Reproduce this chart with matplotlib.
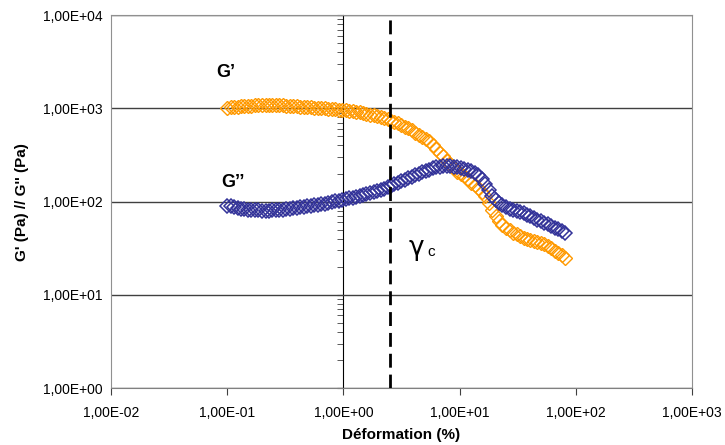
import matplotlib
matplotlib.use("Agg")
import matplotlib.pyplot as plt
from matplotlib.ticker import FuncFormatter, LogLocator, NullFormatter

plt.rcParams['font.family'] = ['Liberation Sans', 'DejaVu Sans']

# --- data ---
strain = [0.100, 0.107, 0.115, 0.123, 0.132, 0.141, 0.151, 0.162, 0.174, 0.186,
          0.200, 0.214, 0.229, 0.245, 0.263, 0.282, 0.302, 0.324, 0.347, 0.372,
          0.398, 0.427, 0.457, 0.490, 0.525, 0.562, 0.603, 0.646, 0.692, 0.741,
          0.794, 0.851, 0.912, 0.977, 1.05, 1.12, 1.20, 1.29, 1.38, 1.48,
          1.58, 1.70, 1.82, 1.95, 2.09, 2.24, 2.40, 2.57, 2.75, 2.95,
          3.16, 3.39, 3.63, 3.89, 4.17, 4.47, 4.79, 5.13, 5.50, 5.89,
          6.31, 6.76, 7.24, 7.76, 8.32, 8.91, 9.55, 10.2, 11.0, 11.7,
          12.6, 13.5, 14.5, 15.5, 16.6, 17.8, 19.1, 20.4, 21.9, 23.4,
          25.1, 26.9, 28.8, 30.9, 33.1, 35.5, 38.0, 40.7, 43.7, 46.8,
          50.1, 53.7, 57.5, 61.7, 66.1, 70.8, 75.9, 81.3]

g_prime = [1020, 1030, 1040, 1045, 1050, 1055, 1060, 1068, 1075, 1075,
           1075, 1075, 1075, 1078, 1080, 1080, 1080, 1070, 1060, 1055,
           1050, 1045, 1040, 1032, 1025, 1018, 1010, 1005, 1000, 995,
           990, 978, 965, 958, 950, 940, 930, 918, 905, 888,
           870, 855, 840, 820, 800, 780, 760, 738, 715, 690,
           665, 638, 610, 580, 550, 520, 490, 468, 445, 405,
           370, 335, 305, 275, 250, 228, 210, 198, 187, 173,
           160, 150, 140, 127, 114, 96, 81, 70, 62, 56,
           52, 49, 46, 44.5, 43, 41, 39.5, 38.5, 37.5, 36.7,
           36, 34.8, 33.5, 31.5, 29.5, 28, 26.8, 25]

g_second = [90.6, 89, 87.3, 85.7, 84.1, 83.1, 82.1, 81.6, 81.1, 80.6,
            80.1, 80.1, 80.1, 80.6, 81.1, 81.6, 82.1, 83.1, 84.1, 85.1,
            86.2, 87.3, 88.4, 89.5, 90.6, 91.7, 92.9, 94, 95.2, 97,
            98.8, 100.5, 102, 104, 106, 108, 110, 112.5, 115, 117.5,
            120, 123, 126, 129.5, 133, 138, 143, 148.5, 154, 160,
            166, 172.5, 179, 185.5, 192, 199.5, 207, 213.5, 220, 227,
            234, 237, 240, 240, 240, 237, 234, 230, 226, 219,
            212, 202, 192, 173, 154, 133, 115, 104, 96.4, 91.5,
            87.3, 84, 81.1, 79, 77.2, 74.8, 72.5, 69.5, 66.5, 64,
            61.8, 59.5, 57.4, 55, 52.6, 50.4, 48.3, 46]

gamma_c = 2.5

fig = plt.figure(figsize=(7.25, 4.45), dpi=100)
ax = fig.add_axes([0.153, 0.128, 0.8015, 0.838])

ax.plot(strain, g_prime, linestyle='none', marker='D', markersize=7,
        markerfacecolor='none', markeredgecolor='#FF9900', markeredgewidth=1.0)
ax.plot(strain, g_second, linestyle='none', marker='D', markersize=7,
        markerfacecolor='none', markeredgecolor='#333399', markeredgewidth=1.1)

ax.axvline(gamma_c, color='black', linewidth=2, linestyle=(0, (5, 2.5)), zorder=5)

ax.set_xscale('log')
ax.set_yscale('log')
ax.set_xlim(1e-2, 1e3)
ax.set_ylim(1e0, 1e4)

sci = FuncFormatter(lambda v, pos: f"{v:.2E}".replace('.', ','))
ax.xaxis.set_major_locator(LogLocator(base=10, numticks=10))
ax.yaxis.set_major_locator(LogLocator(base=10, numticks=10))
ax.xaxis.set_minor_locator(plt.NullLocator())
ax.yaxis.set_minor_locator(plt.NullLocator())
ax.xaxis.set_major_formatter(sci)
ax.yaxis.set_major_formatter(sci)

ax.yaxis.grid(True, color='#404040', linewidth=1)
ax.set_axisbelow(True)

for side in ['left', 'top', 'right']:
    ax.spines[side].set_color('#909090')
ax.spines['bottom'].set_color('#808080')
ax.tick_params(axis='y', length=0, pad=6, labelsize=10)
ax.tick_params(axis='x', direction='out', length=5, color='#404040', pad=8, labelsize=10)

# value axis crossing at x = 1
sec = ax.secondary_yaxis(0.4)
sec.spines['left'].set_color('black')
sec.yaxis.set_minor_locator(LogLocator(base=10, subs=range(2, 10), numticks=20))
sec.yaxis.set_minor_formatter(NullFormatter())
sec.yaxis.set_major_formatter(NullFormatter())
sec.tick_params(which='both', direction='out', length=4, color='#404040')

ax.set_xlabel('Déformation (%)', fontsize=11, fontweight='bold', labelpad=6)
ax.set_ylabel('G\' (Pa) // G\'\' (Pa)', fontsize=11, fontweight='bold', labelpad=10)

ax.text(0.198, 0.847, 'G\u2019', transform=ax.transAxes, fontsize=13,
        fontweight='bold', ha='center', va='center')
ax.text(0.21, 0.55, 'G\u2019\u2019', transform=ax.transAxes, fontsize=13,
        fontweight='bold', ha='center', va='center')
ax.text(0.525, 0.375, '\u03b3', transform=ax.transAxes, fontsize=19,
        ha='center', va='center', family=['DejaVu Sans'])
ax.text(0.551, 0.365, 'c', transform=ax.transAxes, fontsize=11,
        ha='center', va='center')

fig.savefig('out.png', dpi=100)
